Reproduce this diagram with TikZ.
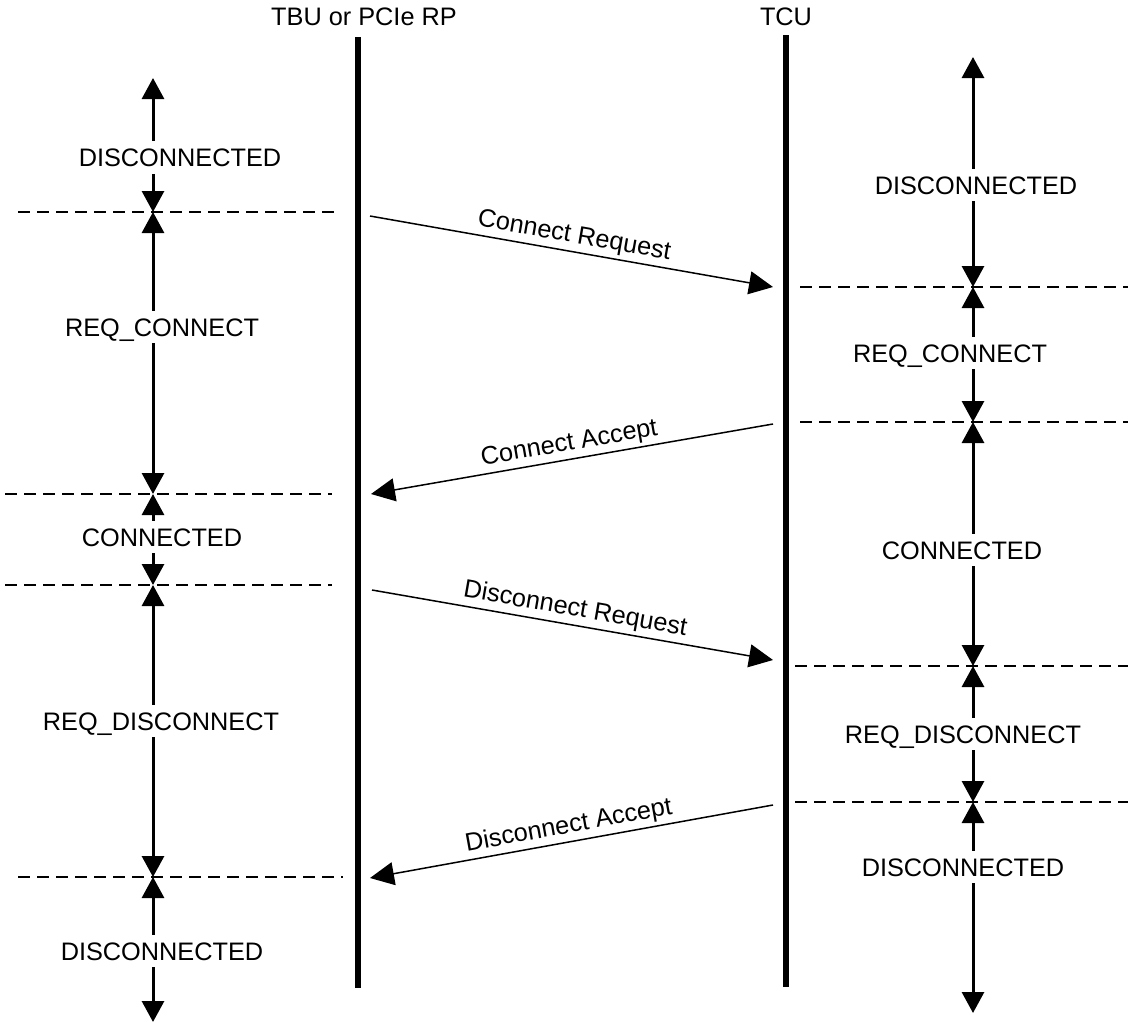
\documentclass[tikz,border=0pt]{standalone}
\usepackage{fontspec}
\setmainfont{Liberation Sans}
\usetikzlibrary{arrows.meta}
\begin{document}
\begin{tikzpicture}[x=1pt,y=-1pt,
  every node/.style={font=\fontsize{25.3}{30}\selectfont},
  lifeline/.style={line width=6.5pt},
  phase/.style={text height=18.3pt, text depth=0pt, inner xsep=2pt, inner ysep=7pt},
  span/.style={line width=3pt, -{Triangle[length=21pt,width=22pt]}},
  boundary/.style={line width=1.3pt, dash pattern=on 12pt off 7pt},
  message/.style={line width=1.5pt, -{Triangle[length=24pt,width=23pt]}},
  msglabel/.style={midway, above, sloped, inner sep=3pt}]
\useasboundingbox (0,0) rectangle (1128,1023);

% participants and their lifelines
\node (tbu) at (364,17) {TBU or PCIe RP};
\node (tcu) at (786,17) {TCU};
\coordinate (tbu-top) at (358,37);
\coordinate (tbu-bot) at (358,988);
\coordinate (tcu-top) at (786,35);
\coordinate (tcu-bot) at (786,987);
\draw[lifeline] (tbu-top) -- (tbu-bot);
\draw[lifeline] (tcu-top) -- (tcu-bot);

% state boundaries on the requester side
\coordinate (lb0) at (153,78);
\coordinate (lb1) at (153,212);
\coordinate (lb2) at (153,494);
\coordinate (lb3) at (153,585);
\coordinate (lb4) at (153,877);
\coordinate (lb5) at (153,1022);

% state boundaries on the TCU side
\coordinate (rb0) at (973,57);
\coordinate (rb1) at (973,287);
\coordinate (rb2) at (973,422);
\coordinate (rb3) at (973,666);
\coordinate (rb4) at (973,802);
\coordinate (rb5) at (973,1013);

% dashed separators
\draw[boundary] (18,212) -- (338,212);
\draw[boundary] (5,494) -- (332,494);
\draw[boundary] (5,585) -- (332,585);
\draw[boundary] (18,877) -- (343,877);
\draw[boundary] (800,287) -- (1128,287);
\draw[boundary] (800,422) -- (1128,422);
\draw[boundary] (795,666) -- (1128,666);
\draw[boundary] (795,802) -- (1128,802);

% requester states
\node[phase] (l1) at (180,157.5) {DISCONNECTED};
\node[phase] (l2) at (162,327) {REQ\_CONNECT};
\node[phase] (l3) at (162,537) {CONNECTED};
\node[phase] (l4) at (161,721) {REQ\_DISCONNECT};
\node[phase] (l5) at (162,951) {DISCONNECTED};
\draw[span] (l1.north -| lb0) -- (lb0);
\draw[span] (l1.south -| lb0) -- (lb1);
\draw[span] (l2.north -| lb0) -- (lb1);
\draw[span] (l2.south -| lb0) -- (lb2);
\draw[span] (l3.north -| lb0) -- (lb2);
\draw[span] (l3.south -| lb0) -- (lb3);
\draw[span] (l4.north -| lb0) -- (lb3);
\draw[span] (l4.south -| lb0) -- (lb4);
\draw[span] (l5.north -| lb0) -- (lb4);
\draw[span] (l5.south -| lb0) -- (lb5);

% TCU states
\node[phase] (r1) at (976,185) {DISCONNECTED};
\node[phase] (r2) at (950,353) {REQ\_CONNECT};
\node[phase] (r3) at (962,550) {CONNECTED};
\node[phase] (r4) at (963,734) {REQ\_DISCONNECT};
\node[phase] (r5) at (963,867) {DISCONNECTED};
\draw[span] (r1.north -| rb0) -- (rb0);
\draw[span] (r1.south -| rb0) -- (rb1);
\draw[span] (r2.north -| rb0) -- (rb1);
\draw[span] (r2.south -| rb0) -- (rb2);
\draw[span] (r3.north -| rb0) -- (rb2);
\draw[span] (r3.south -| rb0) -- (rb3);
\draw[span] (r4.north -| rb0) -- (rb3);
\draw[span] (r4.south -| rb0) -- (rb4);
\draw[span] (r5.north -| rb0) -- (rb4);
\draw[span] (r5.south -| rb0) -- (rb5);

% handshake messages
\coordinate (m1s) at (370,216);
\coordinate (m1e) at (773,287);
\coordinate (m2s) at (773,424);
\coordinate (m2e) at (371,494);
\coordinate (m3s) at (372,590);
\coordinate (m3e) at (773,660);
\coordinate (m4s) at (773,805);
\coordinate (m4e) at (370,878);
\draw[message] (m1s) -- node[msglabel] {Connect Request} (m1e);
\draw[message] (m2s) -- node[msglabel] {Connect Accept} (m2e);
\draw[message] (m3s) -- node[msglabel] {Disconnect Request} (m3e);
\draw[message] (m4s) -- node[msglabel] {Disconnect Accept} (m4e);
\end{tikzpicture}
\end{document}
